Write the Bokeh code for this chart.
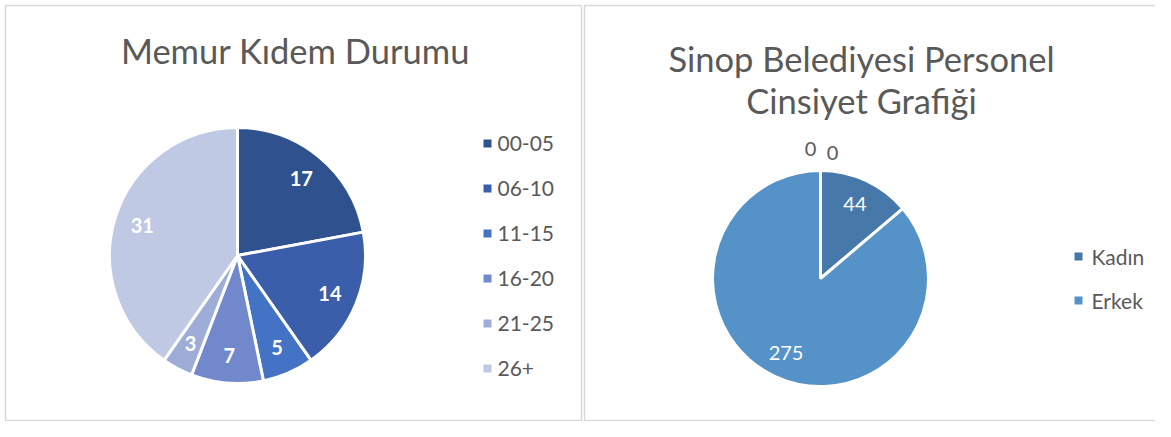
import math
from bokeh.plotting import figure
from bokeh.models import Range1d, ColumnDataSource
from bokeh.core.properties import value
from bokeh.embed import file_html
from bokeh.resources import INLINE

# ---- data ----
left_title = "Memur Kıdem Durumu"
left_categories = ["00-05", "06-10", "11-15", "16-20", "21-25", "26+"]
left_values = [17, 14, 5, 7, 3, 31]
left_colors = ["#2f528f", "#3a5ea9", "#4472c4", "#7189cc", "#9eacd8", "#c0c9e4"]

right_title = ["Sinop Belediyesi Personel", "Cinsiyet Grafiği"]
right_categories = ["Kadın", "Erkek"]
right_values = [44, 275]
right_colors = ["#4679a9", "#5592c8"]
right_zero_labels = ["0", "0"]

FONT = value("Lato")
GREY = "#595959"
H = 437


def Y(y):
    return H - y


p = figure(width=1155, height=421, x_range=Range1d(0, 1155), y_range=Range1d(H - 421, H),
           output_backend="svg", toolbar_location=None, min_border=0)
p.axis.visible = False
p.grid.visible = False
p.outline_line_color = None
p.background_fill_color = "white"
p.border_fill_color = "white"

# panel borders
p.quad(left=[5, 584], right=[581, 1175], bottom=[Y(420), Y(420)], top=[Y(5), Y(5)],
       fill_color=None, line_color="#d9d9d9", line_width=1.5)


def pie(cx, cy, r, values, colors, label_frac, label_style):
    total = sum(values)
    starts, ends, lx, ly = [], [], [], []
    cum = 0
    for v in values:
        a0 = math.pi / 2 - cum / total * 2 * math.pi
        a1 = math.pi / 2 - (cum + v) / total * 2 * math.pi
        mid = (a0 + a1) / 2
        starts.append(a0)
        ends.append(a1)
        lx.append(cx + label_frac * r * math.cos(mid))
        ly.append(cy + label_frac * r * math.sin(mid))
        cum += v
    src = ColumnDataSource(dict(start=starts, end=ends, color=colors,
                                lx=lx, ly=ly, txt=[str(v) for v in values]))
    p.wedge(x=cx, y=cy, radius=r, start_angle="start", end_angle="end", direction="clock",
            fill_color="color", line_color="white", line_width=3, source=src)
    p.text(x="lx", y="ly", text="txt", source=src, text_font=FONT, text_align="center",
           text_baseline="middle", text_color="white", **label_style)


# left pie
lcx, lcy, lr = 237, Y(255), 128
pie(lcx, lcy, lr, left_values, left_colors, 0.78,
    dict(text_font_size="20px", text_font_style="bold"))

# right pie
rcx, rcy, rr = 820, Y(278), 108
pie(rcx, rcy, rr, right_values, right_colors, 0.76,
    dict(text_font_size="20px"))

# zero labels at top of right pie
p.text(x=[rcx - 10, rcx + 12], y=[rcy + rr + 22, rcy + rr + 18], text=right_zero_labels,
       text_font=FONT, text_font_size="20px", text_align="center", text_baseline="middle",
       text_color=GREY)

# titles
p.text(x=[295], y=[Y(50)], text=[left_title], text_font=FONT, text_font_size="34.5px",
       text_align="center", text_baseline="middle", text_color=GREY)
p.text(x=[861, 861], y=[Y(58), Y(100)], text=right_title, text_font=FONT,
       text_font_size="34.5px", text_align="center", text_baseline="middle", text_color=GREY)

# legends
ly0, lstep = 143, 45
lys = [Y(ly0 + i * lstep) for i in range(len(left_categories))]
p.rect(x=[487] * len(left_categories), y=lys, width=8, height=8,
       fill_color=left_colors, line_color=None)
p.text(x=[497] * len(left_categories), y=lys, text=left_categories, text_font=FONT,
       text_font_size="21px", text_align="left", text_baseline="middle", text_color=GREY)

ry0, rstep = 256, 44
rys = [Y(ry0 + i * rstep) for i in range(len(right_categories))]
p.rect(x=[1078] * len(right_categories), y=rys, width=8, height=8,
       fill_color=right_colors, line_color=None)
p.text(x=[1091] * len(right_categories), y=rys, text=right_categories, text_font=FONT,
       text_font_size="21px", text_align="left", text_baseline="middle", text_color=GREY)

open("out.html", "w").write(file_html(p, INLINE))
